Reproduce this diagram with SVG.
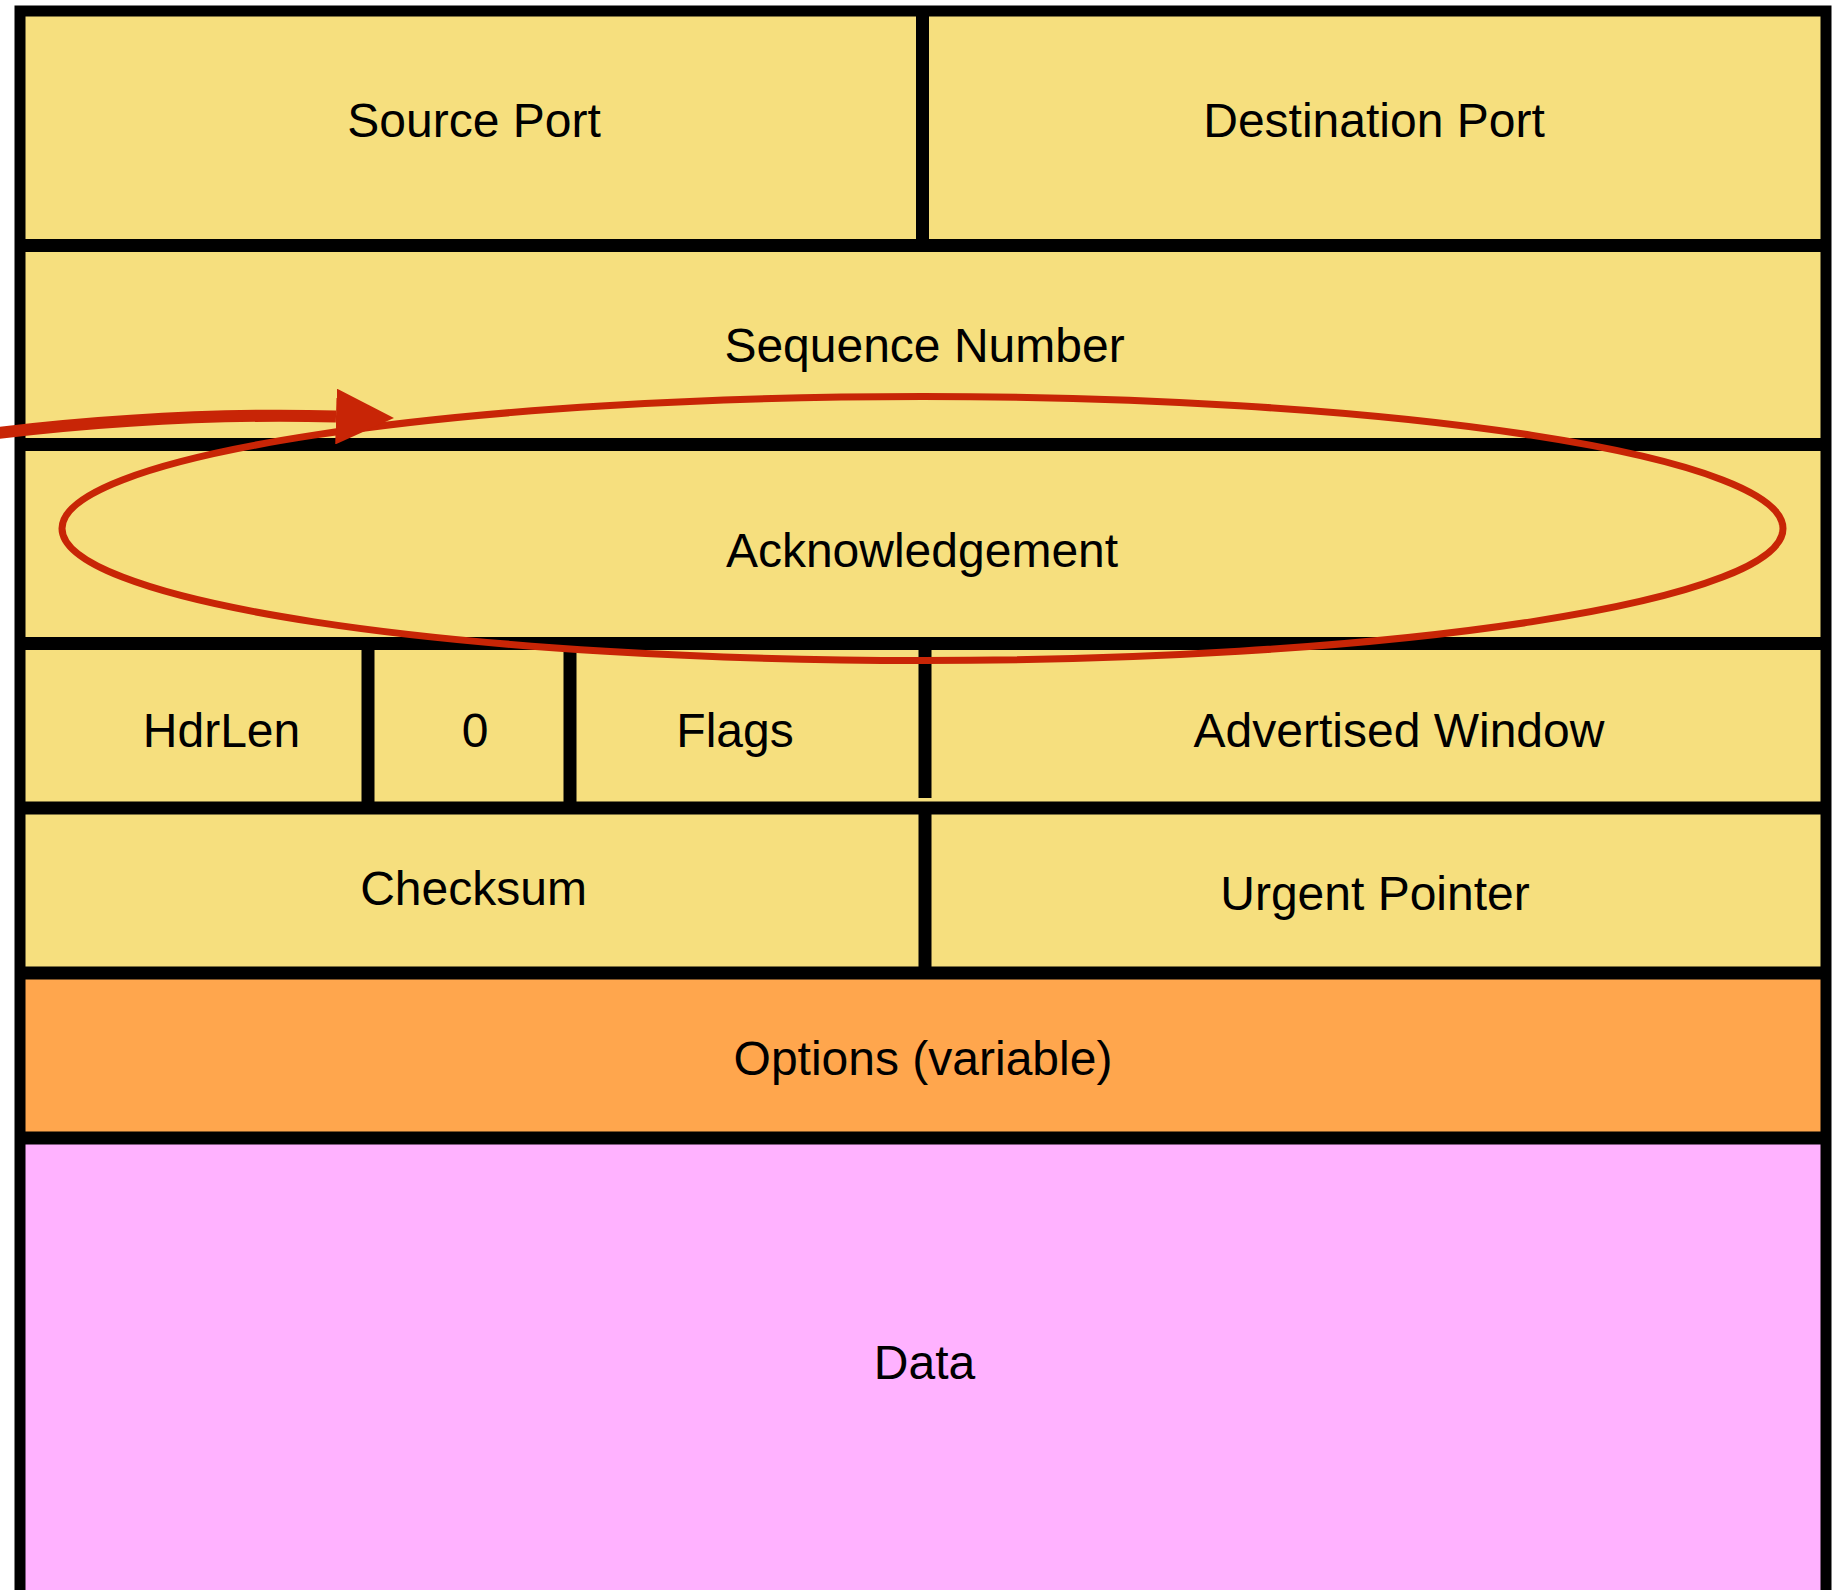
<svg xmlns="http://www.w3.org/2000/svg" width="1845" height="1590" viewBox="0 0 1845 1590">
  <defs>
    <style>
      .y { fill: #F6DF7E; }
      .o { fill: #FFA64D; }
      .p { fill: #FFB2FF; }
      .lbl { font-family: "Liberation Sans", Arial, Helvetica, sans-serif; font-size: 48px; fill: #000; text-anchor: middle; }
      .grid line { stroke: #000; stroke-width: 13; stroke-linecap: butt; }
      .frame { fill: none; stroke: #000; stroke-width: 11; }
      .red { fill: none; stroke: #C82506; }
    </style>
    <marker id="ah" markerUnits="userSpaceOnUse" markerWidth="58" markerHeight="56" viewBox="0 0 56 54" refX="0" refY="27" orient="auto">
      <path d="M0,0 L56,27 L0,54 Z" fill="#C82506"/>
    </marker>
  </defs>
  <rect x="0" y="0" width="1845" height="1590" fill="#FFFFFF"/>

  <g id="source-port"><rect class="y" x="20" y="11" width="902.5" height="234.5"/><text class="lbl" x="474" y="137">Source Port</text></g>
  <g id="destination-port"><rect class="y" x="922.5" y="11" width="903.5" height="234.5"/><text class="lbl" x="1374" y="137">Destination Port</text></g>
  <g id="sequence-number"><rect class="y" x="20" y="245.5" width="1806" height="199"/><text class="lbl" x="924.5" y="362">Sequence Number</text></g>
  <g id="acknowledgement"><rect class="y" x="20" y="444.5" width="1806" height="199"/><text class="lbl" x="922" y="567">Acknowledgement</text></g>
  <g id="hdrlen"><rect class="y" x="20" y="643.5" width="348" height="164.5"/><text class="lbl" x="221.5" y="747">HdrLen</text></g>
  <g id="zero"><rect class="y" x="368" y="643.5" width="202" height="164.5"/><text class="lbl" x="475" y="747">0</text></g>
  <g id="flags"><rect class="y" x="570" y="643.5" width="355" height="164.5"/><text class="lbl" x="735" y="747">Flags</text></g>
  <g id="advertised-window"><rect class="y" x="925" y="643.5" width="901" height="164.5"/><text class="lbl" x="1399" y="747">Advertised Window</text></g>
  <g id="checksum"><rect class="y" x="20" y="808" width="905" height="165"/><text class="lbl" x="473.5" y="905">Checksum</text></g>
  <g id="urgent-pointer"><rect class="y" x="925" y="808" width="901" height="165"/><text class="lbl" x="1375" y="910">Urgent Pointer</text></g>
  <g id="options"><rect class="o" x="20" y="973" width="1806" height="165"/><text class="lbl" x="923" y="1075">Options (variable)</text></g>
  <g id="data"><rect class="p" x="20" y="1138" width="1806" height="460"/><text class="lbl" x="924.5" y="1379">Data</text></g>

  <g id="borders" class="grid">
    <line x1="20" y1="245.5" x2="1826" y2="245.5"/>
    <line x1="20" y1="444.5" x2="1826" y2="444.5"/>
    <line x1="20" y1="643.5" x2="1826" y2="643.5"/>
    <line x1="20" y1="808" x2="1826" y2="808"/>
    <line x1="20" y1="973" x2="1826" y2="973"/>
    <line x1="20" y1="1138" x2="1826" y2="1138"/>
    <line x1="922.5" y1="11" x2="922.5" y2="245.5"/>
    <line x1="368" y1="643.5" x2="368" y2="808"/>
    <line x1="570" y1="643.5" x2="570" y2="808"/>
    <line x1="925" y1="650" x2="925" y2="798"/>
    <line x1="925" y1="808" x2="925" y2="973"/>
    <rect class="frame" x="20" y="11" width="1806" height="1590"/>
  </g>

  <g id="connectors">
    <ellipse class="red" cx="922.5" cy="528.5" rx="860.5" ry="132" stroke-width="7"/>
    <path class="red" d="M -2,433 C 100,421 210,413 336,416.5" stroke-width="12" marker-end="url(#ah)"/>
  </g>
</svg>
